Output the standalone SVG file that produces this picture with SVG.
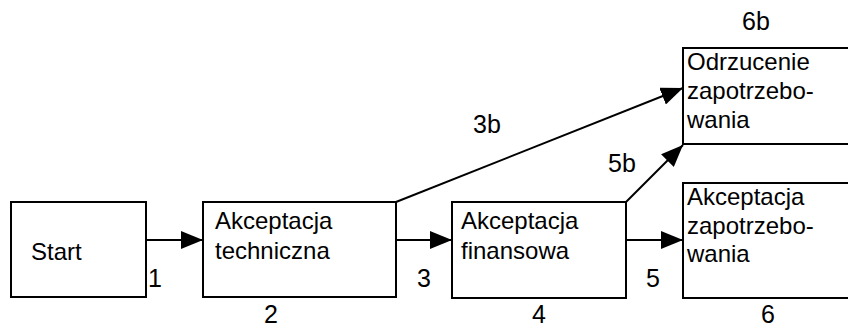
<svg xmlns="http://www.w3.org/2000/svg" width="848" height="327" viewBox="0 0 848 327">
  <defs>
    <marker id="arrow" viewBox="0 0 22 18" refX="22" refY="9" markerWidth="22" markerHeight="18" markerUnits="userSpaceOnUse" orient="auto">
      <path d="M0,0 L22,9 L0,18 Z" fill="#000"/>
    </marker>
    <style>
      .box { fill: #fff; stroke: #000; stroke-width: 2; }
      .edge { fill: none; stroke: #000; stroke-width: 2; marker-end: url(#arrow); }
      text { font-family: "Liberation Sans", Arial, sans-serif; font-size: 24px; fill: #000; }
      .num { font-size: 25px; }
    </style>
  </defs>
  <rect width="848" height="327" fill="#fff"/>

  <g id="connectors">
    <line class="edge" x1="146" y1="240" x2="203" y2="240"/>
    <line class="edge" x1="396" y1="240" x2="452" y2="240"/>
    <line class="edge" x1="626" y1="240" x2="683" y2="240"/>
    <line class="edge" x1="396" y1="202" x2="683" y2="88"/>
    <line class="edge" x1="626" y1="202" x2="683" y2="145"/>
    <text class="num" x="148" y="287">1</text>
    <text class="num" x="417" y="287">3</text>
    <text class="num" x="646" y="287">5</text>
    <text class="num" x="473" y="133">3b</text>
    <text class="num" x="608" y="172">5b</text>
  </g>

  <g id="start">
    <rect class="box" x="11" y="202" width="135" height="95"/>
    <text x="31" y="260">Start</text>
  </g>

  <g id="akceptacja-techniczna">
    <rect class="box" x="203" y="202" width="193" height="95"/>
    <text x="215" y="229">Akceptacja</text>
    <text x="215" y="259">techniczna</text>
    <text class="num" x="264" y="323">2</text>
  </g>

  <g id="akceptacja-finansowa">
    <rect class="box" x="452" y="202" width="174" height="96"/>
    <text x="461" y="229">Akceptacja</text>
    <text x="461" y="259">finansowa</text>
    <text class="num" x="532" y="323">4</text>
  </g>

  <g id="odrzucenie">
    <rect class="box" x="683" y="48" width="170" height="96"/>
    <text x="687" y="70">Odrzucenie</text>
    <text x="687" y="99">zapotrzebo-</text>
    <text x="687" y="128">wania</text>
    <text class="num" x="742" y="30">6b</text>
  </g>

  <g id="akceptacja-zapotrzebowania">
    <rect class="box" x="683" y="183" width="170" height="115"/>
    <text x="687" y="205">Akceptacja</text>
    <text x="687" y="234">zapotrzebo-</text>
    <text x="687" y="262">wania</text>
    <text class="num" x="761" y="323">6</text>
  </g>
</svg>
